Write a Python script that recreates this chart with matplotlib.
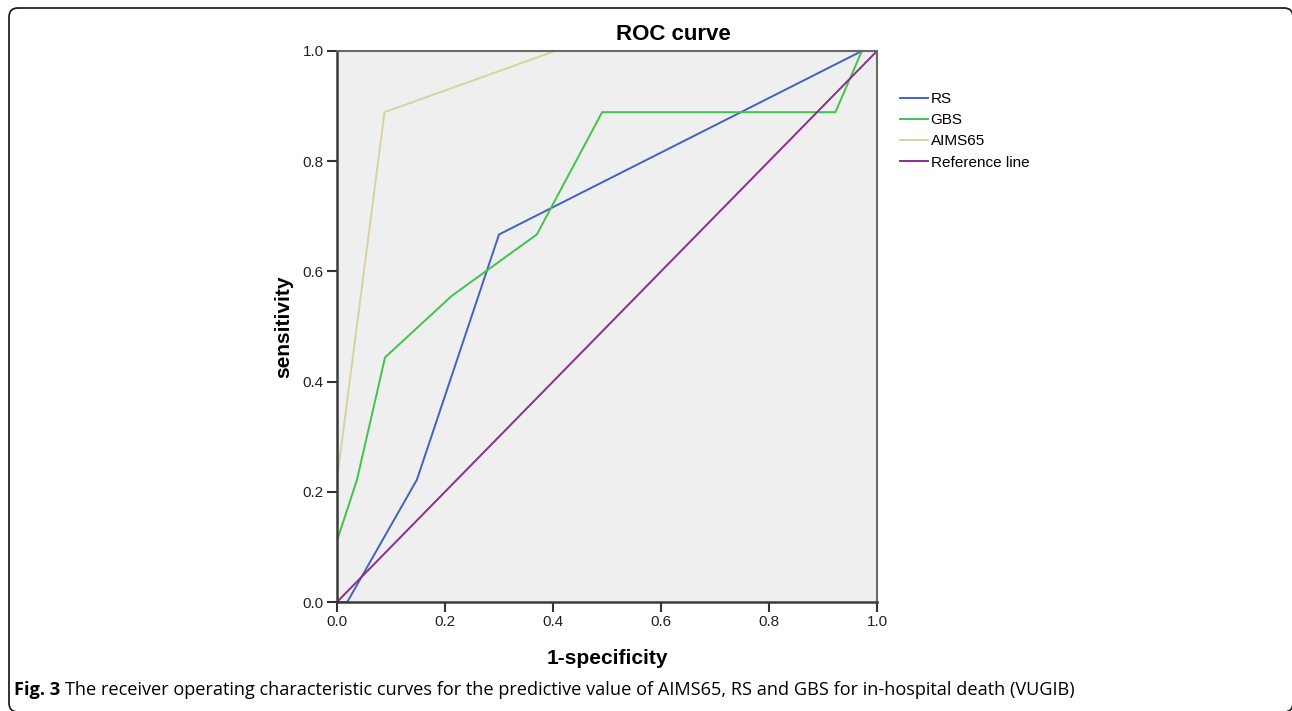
import matplotlib
matplotlib.use("Agg")
import matplotlib.pyplot as plt
from matplotlib.patches import FancyBboxPatch
from matplotlib.transforms import IdentityTransform
from matplotlib.ticker import FormatStrFormatter

# ---- data ----
series_names = ["RS", "GBS", "AIMS65", "Reference line"]
rs_fpr = [0.0, 0.019, 0.148, 0.300, 0.972, 1.0]
rs_tpr = [0.0, 0.0, 0.222, 0.667, 1.0, 1.0]
gbs_fpr = [0.0, 0.0, 0.037, 0.089, 0.213, 0.370, 0.491, 0.923, 0.972, 1.0]
gbs_tpr = [0.0, 0.111, 0.222, 0.444, 0.556, 0.667, 0.889, 0.889, 1.0, 1.0]
aims_fpr = [0.0, 0.0, 0.088, 0.404, 1.0]
aims_tpr = [0.0, 0.222, 0.889, 1.0, 1.0]
ref_fpr = [0.0, 1.0]
ref_tpr = [0.0, 1.0]
ticks = [0.0, 0.2, 0.4, 0.6, 0.8, 1.0]

title = "ROC curve"
xlabel = "1-specificity"
ylabel = "sensitivity"
caption_bold = "Fig. 3"
caption_text = ("The receiver operating characteristic curves for the predictive value of "
                "AIMS65, RS and GBS for in-hospital death (VUGIB)")

colors = ["#4261c4", "#3fc44a", "#d9d2a0", "#8a2d8c"]

W, H = 1292, 711
fig = plt.figure(figsize=(W / 100, H / 100), dpi=100)
fig.patch.set_facecolor("white")

# axes placement in pixels
ax_l, ax_r, ax_t, ax_b = 337, 877, 51, 602
ax = fig.add_axes([ax_l / W, 1 - ax_b / H, (ax_r - ax_l) / W, (ax_b - ax_t) / H])
ax.set_facecolor("#efefef")

sans = ["Liberation Sans", "DejaVu Sans"]

for (xs, ys), c, name in zip([(rs_fpr, rs_tpr), (gbs_fpr, gbs_tpr), (aims_fpr, aims_tpr), (ref_fpr, ref_tpr)],
                             colors, series_names):
    ax.plot(xs, ys, color=c, lw=1.4, label=name, solid_joinstyle="miter")

ax.set_xlim(0, 1)
ax.set_ylim(0, 1)
ax.set_xticks(ticks)
ax.set_yticks(ticks)
ax.xaxis.set_major_formatter(FormatStrFormatter("%.1f"))
ax.yaxis.set_major_formatter(FormatStrFormatter("%.1f"))
ax.tick_params(direction="out", length=7.5, width=1.5, color="#333333",
               labelsize=11, labelcolor="#222222", pad=2)
for lab in ax.get_xticklabels() + ax.get_yticklabels():
    lab.set_family(sans)

for side in ["left", "bottom"]:
    ax.spines[side].set_color("#3a3a3a")
    ax.spines[side].set_linewidth(1.8)
for side in ["top", "right"]:
    ax.spines[side].set_color("#6a6a62")
    ax.spines[side].set_linewidth(1.5)

ax.set_xlabel(xlabel, fontsize=15, fontweight="bold", family=sans, labelpad=14.5)
ax.set_ylabel(ylabel, fontsize=15, fontweight="bold", family=sans, labelpad=7)

fig.text(673 / W, 1 - 35 / H, title, fontsize=16, fontweight="bold", family=sans,
         ha="center", va="center")

leg = ax.legend(loc="upper left", bbox_to_anchor=(900 / W, 1 - 92 / H),
                bbox_transform=fig.transFigure, frameon=False,
                prop={"family": sans, "size": 11},
                handlelength=1.85, handletextpad=0.15, labelspacing=0.47,
                borderpad=0, borderaxespad=0)

# rounded frame around the whole figure (right and bottom edges just off the image)
frame = FancyBboxPatch((9, -1), 1284, 704, boxstyle="round,pad=0,rounding_size=9",
                       transform=IdentityTransform(), fill=False, ec="#222222", lw=1.3,
                       clip_on=False)
fig.patches.append(frame)
frame.set_figure(fig)

# caption: bold prefix + regular text
cap_font = ["Open Sans", "DejaVu Sans"]
cap_y = 1 - 690 / H
t1 = fig.text(14 / W, cap_y, caption_bold, fontsize=13.1, fontweight="bold",
              family=cap_font, ha="left", va="center")
fig.canvas.draw()
r = fig.canvas.get_renderer()
bb = t1.get_window_extent(renderer=r)
fig.text((bb.x1 + 5) / W, cap_y, caption_text, fontsize=13.1, family=cap_font,
         ha="left", va="center")

fig.savefig("out.png", dpi=100)
